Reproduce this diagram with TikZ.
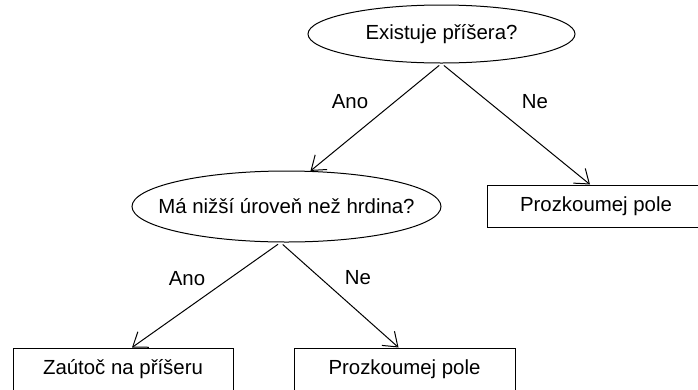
\documentclass[tikz,border=0pt]{standalone}
\usepackage{fontspec}
\setmainfont{Liberation Sans}
\usetikzlibrary{shapes.geometric,arrows.meta}

\begin{document}
\begin{tikzpicture}[x=1pt, y=-1pt, line width=1pt,
		every node/.style={font=\fontsize{20.4}{24}\selectfont, inner sep=0pt},
		question/.style={draw, ellipse, inner xsep=-30pt},
		answer/.style={draw, rectangle, minimum height=42pt},
		branch/.style={-{Straight Barb[length=13pt,width=19pt]}, shorten <=3pt}]
		\useasboundingbox (0,0) rectangle (698,389);

		\node[question, minimum width=267pt, minimum height=58pt] (exist) at (441.5, 34) {Existuje příšera?};
		\node[question, minimum width=309pt, minimum height=71pt] (lower) at (286.5, 206.5) {Má nižší úroveň než hrdina?};

		\node[answer, minimum width=218pt] (explore1) at (596, 206) {Prozkoumej pole};
		\node[answer, minimum width=220pt] (attack) at (123, 369) {Zaútoč na příšeru};
		\node[answer, minimum width=221pt] (explore2) at (404.5, 369) {Prozkoumej pole};

		\node (ano1) at (350, 102) {Ano};
		\node (ne1) at (535, 102) {Ne};
		\node (ano2) at (187, 279) {Ano};
		\node (ne2) at (358, 278) {Ne};

		\draw[branch] (exist.south) -- (lower.56);
		\draw[branch] (exist.south) -- ([xshift=-6pt]explore1.north);

		\draw[branch] ([xshift=-6pt]lower.south) -- ([xshift=9pt]attack.north);
		\draw[branch] ([xshift=-6pt]lower.south) -- ([xshift=-6pt]explore2.north);
	\end{tikzpicture}
\end{document}
